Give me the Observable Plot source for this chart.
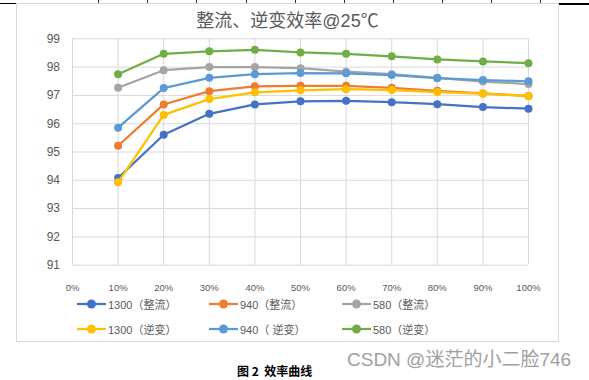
<!DOCTYPE html>
<html><head><meta charset="utf-8">
<script src="https://cdn.jsdelivr.net/npm/d3@7"></script>
<script src="https://cdn.jsdelivr.net/npm/@observablehq/plot@0.6"></script>
<style>
body{margin:0;background:#fff;width:589px;height:380px;overflow:hidden;position:relative;font-family:"Liberation Sans","Noto Sans CJK SC",sans-serif;}
#frame{position:absolute;left:16px;top:3px;width:543px;height:339px;border:1px solid #d9d9d9;box-sizing:border-box;}
.blk{position:absolute;top:3px;height:1px;background:#000;}
.tk{position:absolute;top:0;width:1px;height:3px;background:#333;}
#chart{position:absolute;left:0;top:0;}
#title{position:absolute;left:16px;width:543px;top:10px;text-align:center;font-size:18px;line-height:22px;color:#595959;font-family:"Liberation Sans","Noto Sans CJK SC",sans-serif;}
.leg{position:absolute;height:14px;display:flex;align-items:center;font-size:11px;color:#595959;white-space:pre;}
.leg svg{margin-right:2px;}
#caption{position:absolute;left:237px;top:362px;font-size:12px;line-height:18px;font-weight:bold;color:#000;font-family:"Noto Sans CJK SC",sans-serif;white-space:pre;}
#wm{position:absolute;left:347px;top:348px;font-size:19px;line-height:24px;color:#a0a0a0;font-family:"Liberation Sans","Noto Sans CJK SC",sans-serif;}
</style>
</head><body>
<div class="blk" style="left:0;width:16px"></div>
<div class="blk" style="left:559px;width:30px;height:1.5px"></div>
<div id="frame"></div>
<div id="chart"></div>
<div id="title">整流、逆变效率@25℃</div>
<div id="legend"></div>
<div id="caption">图 2  效率曲线</div>
<div id="wm">CSDN @迷茫的小二脸746</div>
<script>
// ---- data ----
const loads = [10, 20, 30, 40, 50, 60, 70, 80, 90, 100];
const xTicks = [0, 10, 20, 30, 40, 50, 60, 70, 80, 90, 100];
const yTicks = [91, 92, 93, 94, 95, 96, 97, 98, 99];
const seriesNames = ["1300（整流）", "940（整流）", "580（整流）", "1300（逆变）", "940（ 逆变）", "580（逆变）"];
const seriesColors = ["#4472C4", "#ED7D31", "#A5A5A5", "#FFC000", "#5B9BD5", "#70AD47"];
const rect1300 = [94.08, 95.61, 96.35, 96.68, 96.79, 96.81, 96.76, 96.69, 96.59, 96.53];
const rect940  = [95.22, 96.68, 97.15, 97.32, 97.34, 97.34, 97.27, 97.16, 97.07, 96.98];
const rect580  = [97.27, 97.89, 98.00, 98.00, 97.96, 97.84, 97.75, 97.62, 97.49, 97.40];
const inv1300  = [93.93, 96.31, 96.87, 97.11, 97.18, 97.22, 97.19, 97.12, 97.06, 96.98];
const inv940   = [95.86, 97.26, 97.62, 97.75, 97.79, 97.78, 97.72, 97.61, 97.54, 97.50];
const inv580   = [97.75, 98.47, 98.56, 98.61, 98.52, 98.47, 98.38, 98.27, 98.20, 98.14];
const seriesValues = [rect1300, rect940, rect580, inv1300, inv940, inv580];

// top decoration ticks (document ruler marks)
[97.7,147,196,245.5,295,344,393,442,491,540].forEach(x=>{
  const d=document.createElement("div");d.className="tk";d.style.left=x+"px";document.body.appendChild(d);
});

const rows = seriesNames.flatMap((name, i) => loads.map((x, j) => ({series: name, x, y: seriesValues[i][j]})));

const marks = [
  Plot.gridX(xTicks, {stroke: "#d9d9d9", strokeOpacity: 1}),
  Plot.gridY(yTicks, {stroke: "#d9d9d9", strokeOpacity: 1}),
  Plot.axisX(xTicks, {tickSize: 0, tickPadding: 19, tickFormat: d => d + "%", fontSize: 9.5, fill: "#595959", label: null}),
  Plot.axisY(yTicks, {tickSize: 0, tickPadding: 12.5, fontSize: 12, fill: "#595959", label: null})
];
seriesNames.forEach((name, i) => {
  const d = rows.filter(r => r.series === name);
  marks.push(Plot.line(d, {x: "x", y: "y", stroke: seriesColors[i], strokeWidth: 2.25}));
  marks.push(Plot.dot(d, {x: "x", y: "y", fill: seriesColors[i], r: 4}));
});

const chart = Plot.plot({
  width: 589, height: 300,
  marginLeft: 72, marginRight: 61, marginTop: 38.3, marginBottom: 35.3,
  x: {domain: [0, 100], axis: null, label: null},
  y: {domain: [91, 99], axis: null, label: null},
  style: {background: "transparent", fontFamily: "'Liberation Sans','Noto Sans CJK SC',sans-serif", overflow: "visible"},
  marks
});
document.getElementById("chart").appendChild(chart);

// legend
const colX = [77, 209, 342], rowY = [304.3, 329.3];
const leg = document.getElementById("legend");
seriesNames.forEach((name, i) => {
  const c = i % 3, r = Math.floor(i / 3);
  const el = document.createElement("div");
  el.className = "leg";
  el.style.left = colX[c] + "px";
  el.style.top = (rowY[r] - 7) + "px";
  el.innerHTML = `<svg width="29" height="12"><line x1="0" y1="6" x2="29" y2="6" stroke="${seriesColors[i]}" stroke-width="2.25"/><circle cx="14.5" cy="6" r="4.5" fill="${seriesColors[i]}"/></svg><span>${name}</span>`;
  leg.appendChild(el);
});
</script>
</body></html>
